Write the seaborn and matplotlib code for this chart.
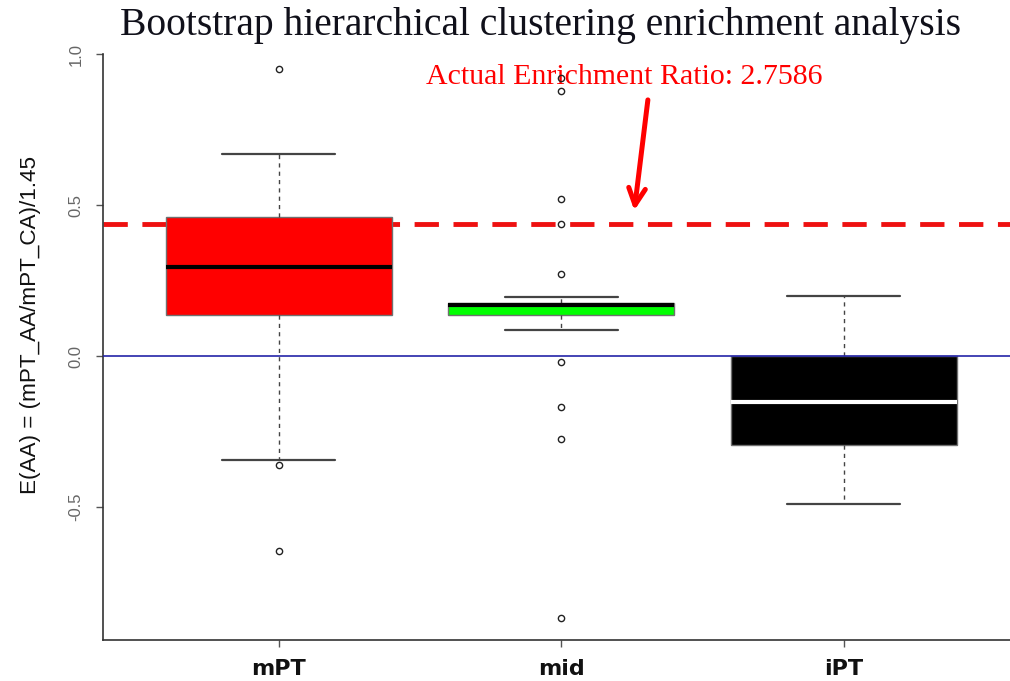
import matplotlib
matplotlib.use("Agg")
import matplotlib.pyplot as plt
import numpy as np
import pandas as pd
import seaborn as sns

# ---------------- data ----------------
categories = ["mPT", "mid", "iPT"]
mpt_values = [-0.646, -0.361, -0.344, 0.135, 0.135, 0.295, 0.295, 0.295,
              0.46, 0.46, 0.669, 0.669, 0.95]
mid_values = [-0.868, -0.276, -0.168, -0.02, 0.085, 0.085, 0.137, 0.137,
              0.137, 0.168, 0.168, 0.168, 0.168, 0.168, 0.168, 0.175,
              0.175, 0.175, 0.175, 0.195, 0.273, 0.437, 0.52, 0.877, 0.92]
ipt_values = [-0.49, -0.295, -0.151, 0.0, 0.199]
box_colors = ["#FF0000", "#00FF00", "#000000"]
median_colors = ["#000000", "#000000", "#FFFFFF"]
actual_ratio_level = 0.437
zero_level = 0.0
yticks = [-0.5, 0.0, 0.5, 1.0]
ytick_labels = ["-0.5", "0.0", "0.5", "1.0"]
title = "Bootstrap hierarchical clustering enrichment analysis"
ylabel = "E(AA) = (mPT_AA/mPT_CA)/1.45"
annotation = "Actual Enrichment Ratio: 2.7586"

df = pd.DataFrame({
    "group": (["mPT"] * len(mpt_values) + ["mid"] * len(mid_values)
              + ["iPT"] * len(ipt_values)),
    "value": mpt_values + mid_values + ipt_values,
})

# ---------------- style ----------------
sns.set_style("ticks")
plt.rcParams["font.family"] = ["Liberation Sans", "DejaVu Sans"]

W, H = 1010, 681
fig = plt.figure(figsize=(W / 100, H / 100), dpi=100)
ax = fig.add_axes([103 / W, 41 / H, (W - 103) / W, (640 - 54) / H])

sns.boxplot(
    data=df, x="group", y="value", hue="group",
    order=categories, hue_order=categories, palette=box_colors,
    saturation=1, width=0.8, whis=1.5, linecolor="#707070", linewidth=1,
    legend=False, ax=ax,
    boxprops=dict(zorder=2),
    whiskerprops=dict(linestyle=(0, (3, 3)), color="#444444", linewidth=1),
    capprops=dict(color="#444444", linewidth=1.6),
    medianprops=dict(linewidth=3),
    flierprops=dict(marker="o", markersize=4.5, markerfacecolor="none",
                    markeredgecolor="#222222", markeredgewidth=1, zorder=4),
)

for i, cont in enumerate(ax.containers):
    for med in cont.medians:
        med.set_color(median_colors[i])
        med.set_zorder(3)

# reference lines
ax.axhline(actual_ratio_level, color="#EE1111", lw=3.5, dashes=(5, 3),
           zorder=0.5)
ax.axhline(zero_level, color="#2424A8", lw=1.2, zorder=5)

# annotation + arrow
ax.text(1.221, 0.925, annotation, color="#FF0000", fontsize=21.5,
        family=["Liberation Serif", "DejaVu Serif"], ha="center", va="center")
ax.annotate("", xy=(1.258, 0.482), xytext=(1.306, 0.848),
            arrowprops=dict(arrowstyle="->,head_length=1.2,head_width=0.6",
                            color="#FF0000", lw=3.6, shrinkA=0, shrinkB=0))

# axes
ax.set_xlim(-0.623, 2.588)
ax.set_ylim(-0.94, 1.0)
ax.set_yticks(yticks)
ax.set_yticklabels(ytick_labels, rotation=90, va="center", fontsize=12,
                   color="#666666")
ax.set_xticks(range(len(categories)))
ax.set_xticklabels(categories, fontsize=16, fontweight="bold",
                   family=["DejaVu Sans"], color="#111111")
ax.tick_params(axis="both", direction="out", length=5, width=1,
               color="#555555")
ax.tick_params(axis="y", pad=9)
ax.tick_params(axis="x", pad=9)
ax.set_xlabel("")
ax.set_ylabel("")
for s in ["top", "right"]:
    ax.spines[s].set_visible(False)
for s in ["left", "bottom"]:
    ax.spines[s].set_color("#333333")
    ax.spines[s].set_linewidth(1.2)

fig.text(31 / W, 1 - 325 / H, ylabel, rotation=90, ha="center", va="center",
         fontsize=16.2, color="#111111")
fig.text(540 / W, 1 - 26 / H, title, ha="center", va="center", fontsize=28.5,
         family=["Liberation Serif", "DejaVu Serif"], color="#10101a")

fig.savefig("out.png", dpi=100)
